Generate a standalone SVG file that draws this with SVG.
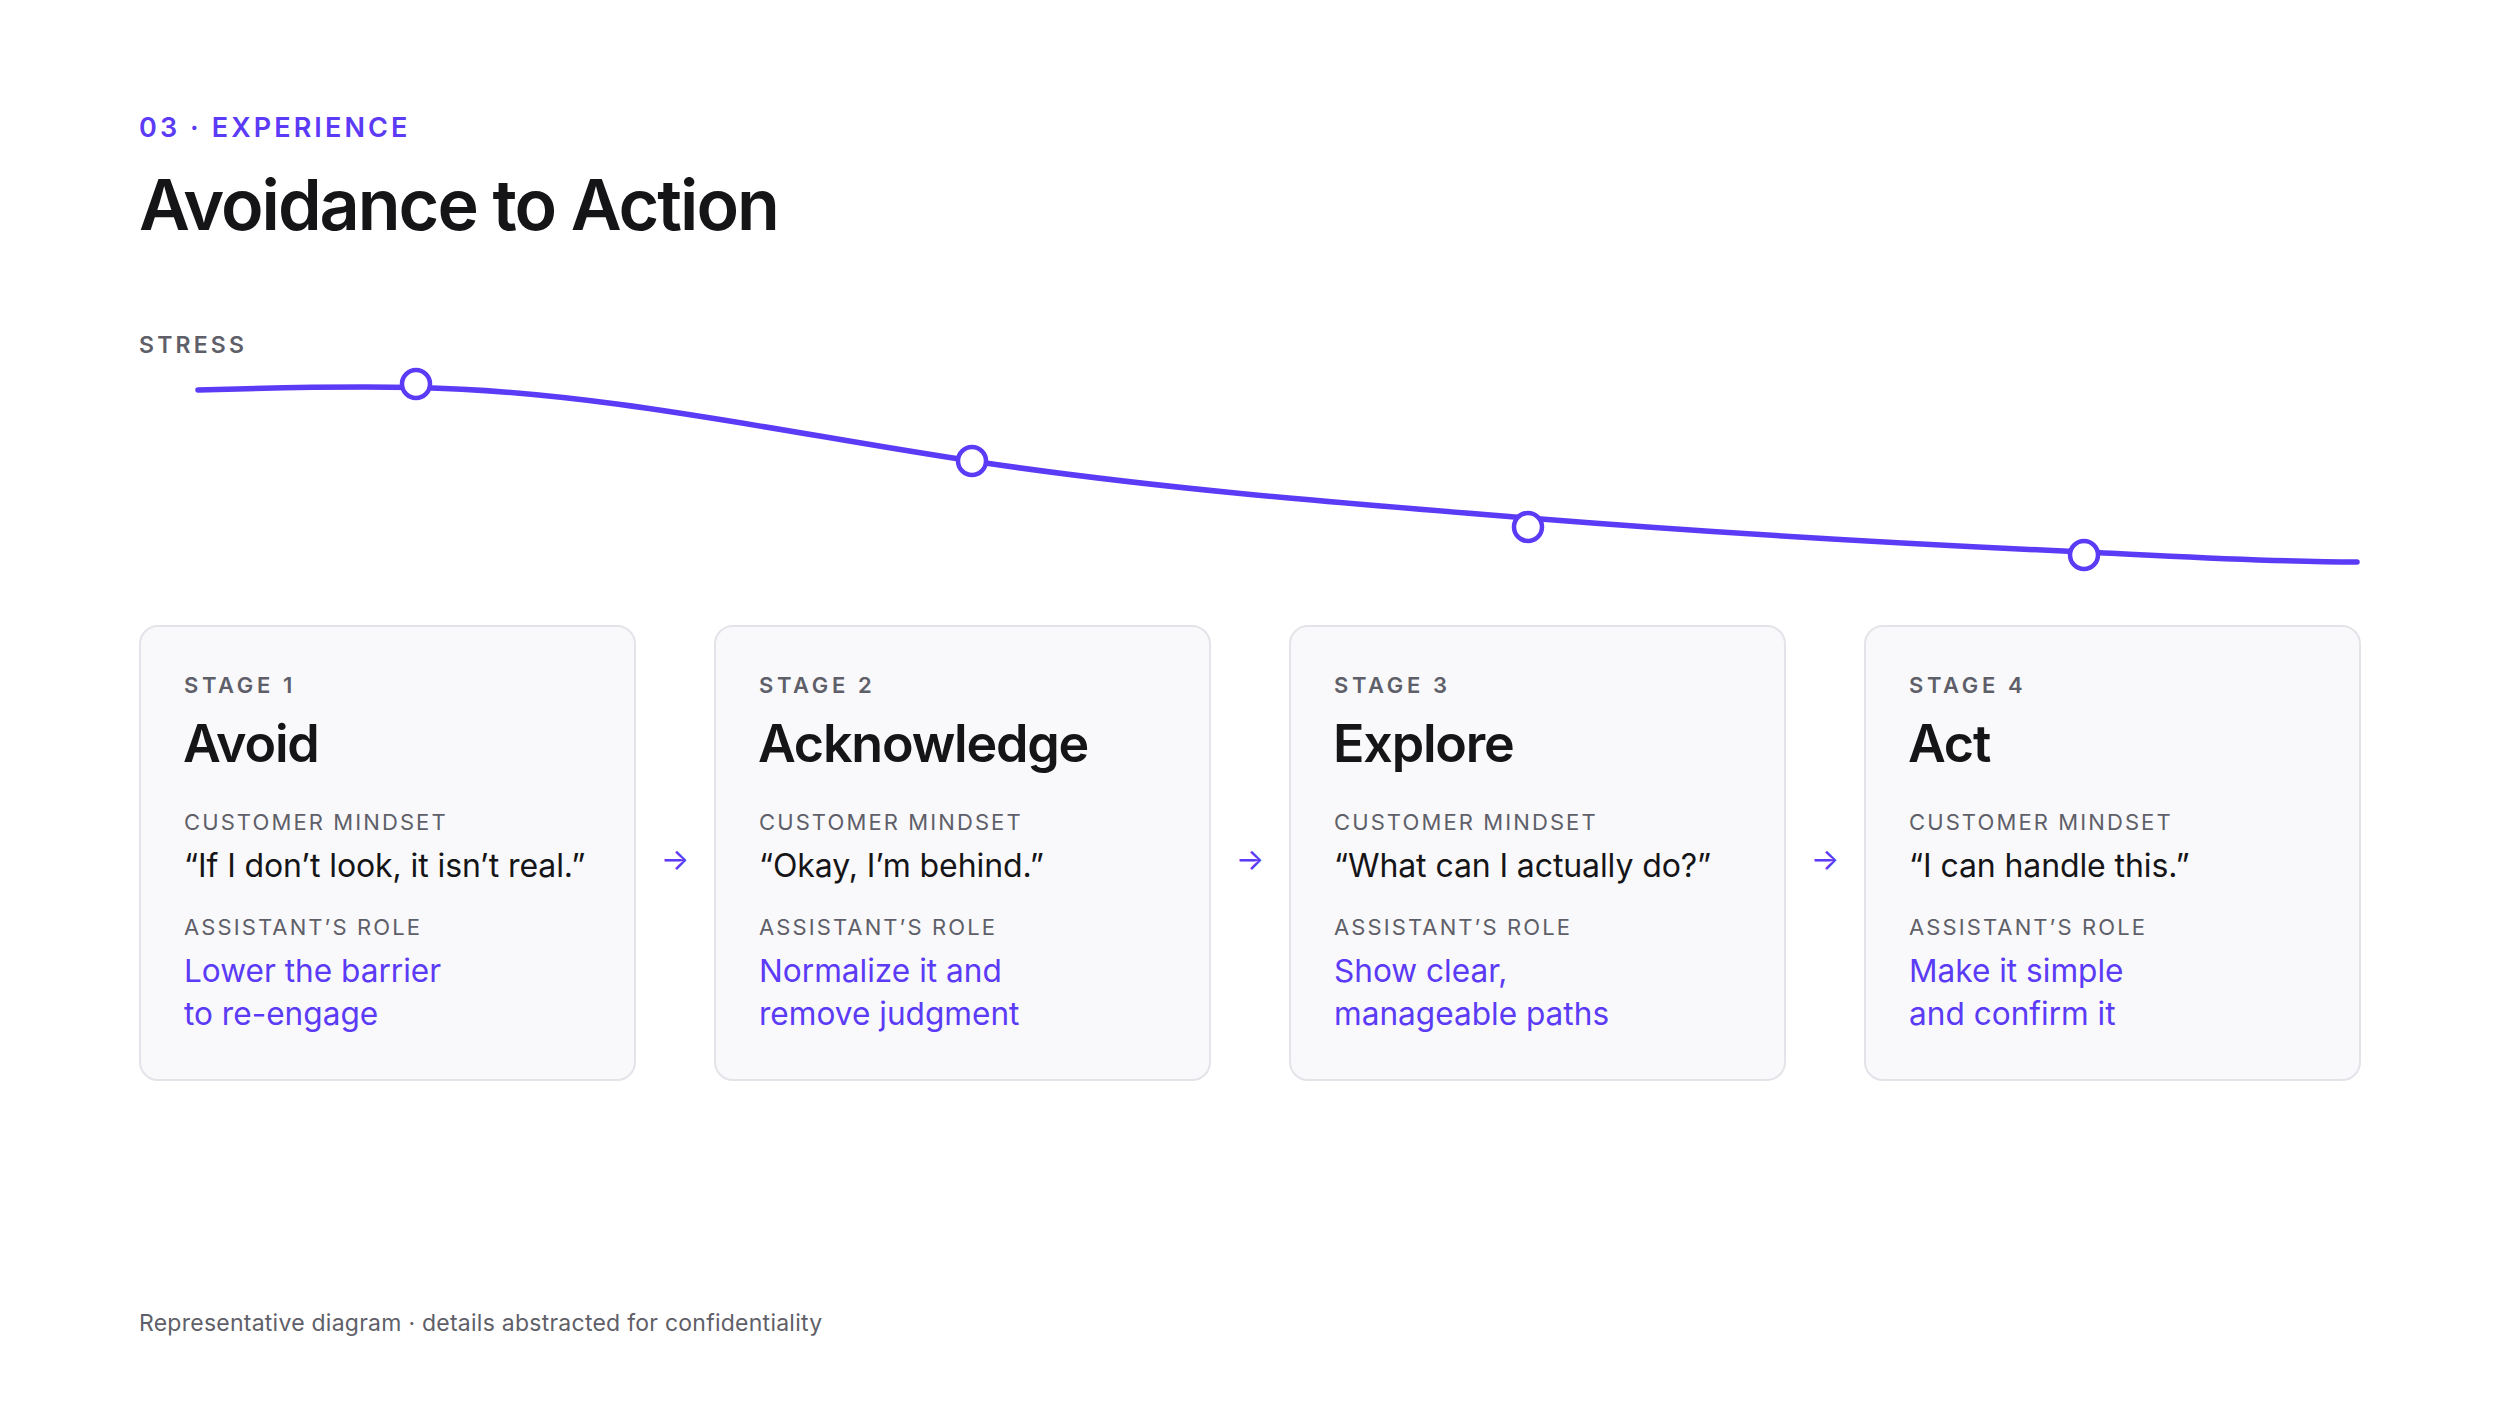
<svg xmlns="http://www.w3.org/2000/svg" width="2500" height="1406" viewBox="0 0 2500 1406">
<style>
  text { font-family: Inter, "Noto Sans", "Liberation Sans", sans-serif; }
  .eyebrow { font-size: 27px; font-weight: 600; fill: #5B3BF5; letter-spacing: 3.1px; }
  .title { font-size: 70px; font-weight: 600; fill: #151518; letter-spacing: -2px; }
  .axis { font-size: 23px; font-weight: 600; fill: #5f5f69; letter-spacing: 3.2px; }
  .card { fill: #F9F9FB; stroke: #E3E3E9; stroke-width: 2; }
  .stage { font-size: 22px; font-weight: 600; fill: #5f5f69; letter-spacing: 3.6px; }
  .name { font-size: 52px; font-weight: 600; fill: #151518; letter-spacing: -1.2px; }
  .label { font-size: 22px; font-weight: 400; fill: #5f5f69; letter-spacing: 2.1px; }
  .quote { font-size: 32px; font-weight: 400; fill: #151518; letter-spacing: -0.1px; }
  .role { font-size: 31.6px; font-weight: 400; fill: #5B3BF5; }
  .arrow { font-size: 30px; fill: #5B3BF5; }
  .foot { font-size: 23px; font-weight: 400; fill: #5f5f69; letter-spacing: 0.25px; }
  .curve { fill: none; stroke: #5B3BF5; stroke-width: 5.5; stroke-linecap: round; }
  .dot { fill: #FFFFFF; stroke: #5B3BF5; stroke-width: 4.5; }
</style>
<rect x="0" y="0" width="2500" height="1406" fill="#FFFFFF"/>

<g id="header">
  <text class="eyebrow" x="139" y="137">03 · EXPERIENCE</text>
  <text class="title" x="139" y="230">Avoidance to Action</text>
  <text class="axis" x="139" y="353">STRESS</text>
</g>

<g id="stress-curve">
  <path class="curve" d="M198,390 C280,387.5 360,386.5 416,387.5 C601,391.2 787,433.3 972,461 C1157,488.8 1343,503.2 1528,518 C1713,532.8 1899,543.7 2084,552 C2176,556.1 2266,562 2357,562"/>
  <circle class="dot" cx="416" cy="384" r="14"/>
  <circle class="dot" cx="972" cy="461" r="14"/>
  <circle class="dot" cx="1528" cy="527" r="14"/>
  <circle class="dot" cx="2084" cy="555" r="14"/>
</g>

<g id="stage1">
  <rect class="card" x="140" y="626" width="495" height="454" rx="18"/>
  <text class="stage" x="184" y="693">STAGE 1</text>
  <text class="name" x="183" y="762">Avoid</text>
  <text class="label" x="184" y="830">CUSTOMER MINDSET</text>
  <text class="quote" x="184" y="877">“If I don’t look, it isn’t real.”</text>
  <text class="label" x="184" y="935">ASSISTANT’S ROLE</text>
  <text class="role" x="184" y="982">Lower the barrier</text>
  <text class="role" x="184" y="1025">to re-engage</text>
</g>

<g id="stage2">
  <rect class="card" x="715" y="626" width="495" height="454" rx="18"/>
  <text class="stage" x="759" y="693">STAGE 2</text>
  <text class="name" x="758" y="762">Acknowledge</text>
  <text class="label" x="759" y="830">CUSTOMER MINDSET</text>
  <text class="quote" x="759" y="877">“Okay, I’m behind.”</text>
  <text class="label" x="759" y="935">ASSISTANT’S ROLE</text>
  <text class="role" x="759" y="982">Normalize it and</text>
  <text class="role" x="759" y="1025">remove judgment</text>
</g>

<g id="stage3">
  <rect class="card" x="1290" y="626" width="495" height="454" rx="18"/>
  <text class="stage" x="1334" y="693">STAGE 3</text>
  <text class="name" x="1333" y="762">Explore</text>
  <text class="label" x="1334" y="830">CUSTOMER MINDSET</text>
  <text class="quote" x="1334" y="877">“What can I actually do?”</text>
  <text class="label" x="1334" y="935">ASSISTANT’S ROLE</text>
  <text class="role" x="1334" y="982">Show clear,</text>
  <text class="role" x="1334" y="1025">manageable paths</text>
</g>

<g id="stage4">
  <rect class="card" x="1865" y="626" width="495" height="454" rx="18"/>
  <text class="stage" x="1909" y="693">STAGE 4</text>
  <text class="name" x="1908" y="762">Act</text>
  <text class="label" x="1909" y="830">CUSTOMER MINDSET</text>
  <text class="quote" x="1909" y="877">“I can handle this.”</text>
  <text class="label" x="1909" y="935">ASSISTANT’S ROLE</text>
  <text class="role" x="1909" y="982">Make it simple</text>
  <text class="role" x="1909" y="1025">and confirm it</text>
</g>

<g id="connectors">
  <text class="arrow" x="675" y="870" text-anchor="middle">→</text>
  <text class="arrow" x="1250" y="870" text-anchor="middle">→</text>
  <text class="arrow" x="1825" y="870" text-anchor="middle">→</text>
</g>

<g id="footer">
  <text class="foot" x="139" y="1331">Representative diagram · details abstracted for confidentiality</text>
</g>
</svg>
